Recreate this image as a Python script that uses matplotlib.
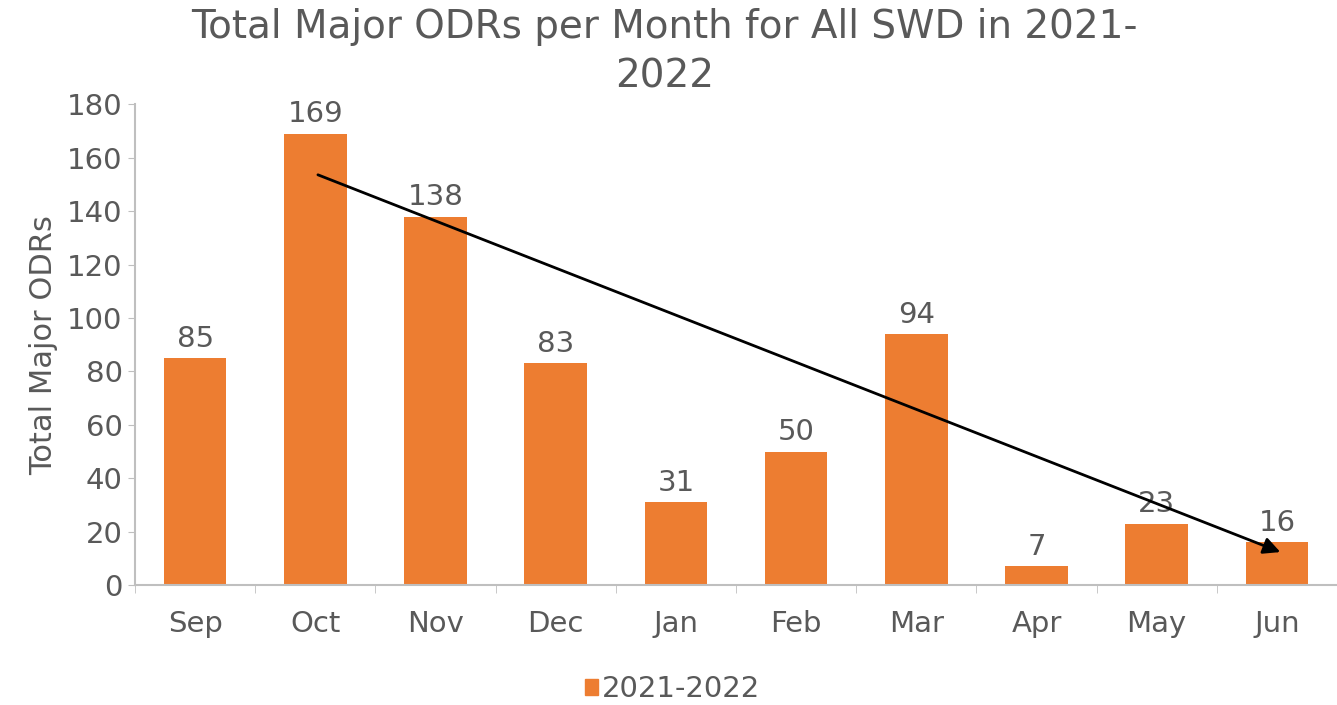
import matplotlib
matplotlib.use("Agg")
import matplotlib.pyplot as plt
from matplotlib.patches import Patch

months = ["Sep", "Oct", "Nov", "Dec", "Jan", "Feb", "Mar", "Apr", "May", "Jun"]
odrs = [85, 169, 138, 83, 31, 50, 94, 7, 23, 16]
series_name = "2021-2022"
trend_start = (1.0, 154)
trend_end = (9.05, 12)

plt.rcParams['font.family'] = ['DejaVu Sans']
gray = "#595959"
orange = "#ED7D31"

fig = plt.figure(figsize=(13.37, 7.05), dpi=100)
ax = fig.add_axes([0.101, 0.170, 0.899, 0.682])
x = list(range(len(months)))
bars = ax.bar(x, odrs, width=0.52, color=orange, zorder=2)
for xi, v in zip(x, odrs):
    ax.text(xi, v + 2, str(v), ha="center", va="bottom", fontsize=21, color=gray)

ax.set_xlim(-0.5, len(months) - 0.5)
ax.set_ylim(0, 180)
ax.set_yticks(range(0, 181, 20))
ax.tick_params(axis="y", labelsize=21, colors=gray, length=5, color="#bfbfbf", pad=4)
ax.set_xticks(x)
ax.set_xticklabels(months)
ax.tick_params(axis="x", labelsize=21, colors=gray, length=0, pad=18)
ax.set_xticks([i - 0.5 for i in range(len(months) + 1)], minor=True)
ax.tick_params(axis="x", which="minor", length=6, color="#bfbfbf")
for s in ["top", "right"]:
    ax.spines[s].set_visible(False)
ax.spines["left"].set_color("#bfbfbf")
ax.spines["bottom"].set_color("#bfbfbf")
ax.spines["left"].set_linewidth(1.5)
ax.spines["bottom"].set_linewidth(1.5)

ax.set_ylabel("Total Major ODRs", fontsize=22, color=gray, labelpad=6)

ax.annotate("", xy=trend_end, xytext=trend_start,
            arrowprops=dict(arrowstyle="-|>", color="black", lw=2, mutation_scale=25), zorder=3)

fig.text(0.497, 0.988, "Total Major ODRs per Month for All SWD in 2021-\n2022",
         ha="center", va="top", fontsize=28, color=gray, linespacing=1.38)

fig.legend(handles=[Patch(color=orange, label=series_name)], loc="lower center",
           bbox_to_anchor=(0.503, -0.035), frameon=False, fontsize=21,
           labelcolor=gray, handlelength=0.45, handleheight=0.45, handletextpad=0.15)

fig.savefig("out.png", dpi=100)
